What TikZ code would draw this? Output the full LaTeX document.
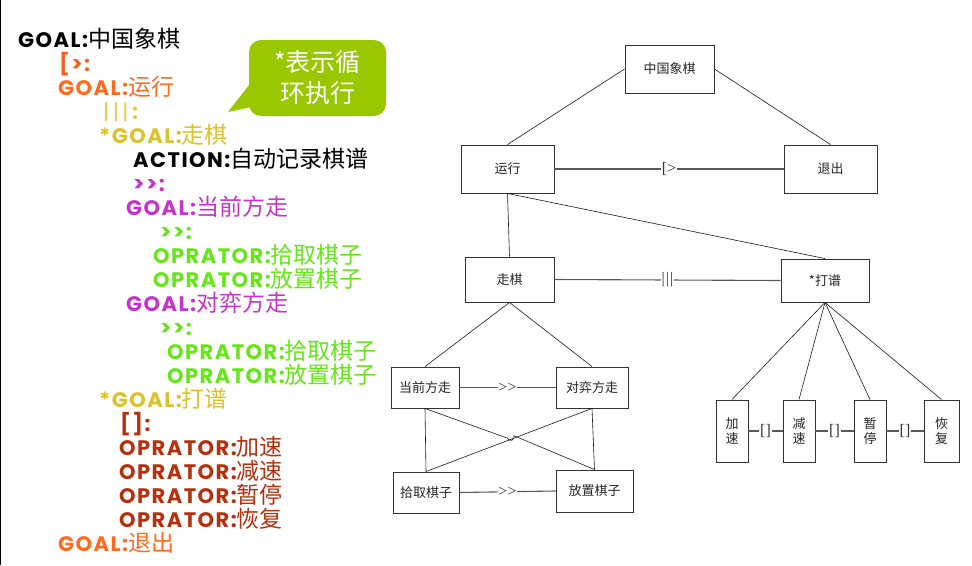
\documentclass[tikz,border=0pt]{standalone}
\usepackage{fontspec}
\newfontfamily\pop{Poppins}[LetterSpace=7]
\newfontfamily\cjk{Noto Sans CJK SC}
\newfontfamily\labf{Liberation Serif}
\usetikzlibrary{calc}
\definecolor{cRedOr}{HTML}{F4601C}
\definecolor{cOrange}{HTML}{FF6A1F}
\definecolor{cYel}{HTML}{DCC22A}
\definecolor{cYelL}{HTML}{E6CA44}
\definecolor{cMag}{HTML}{C832C8}
\definecolor{cGreen}{HTML}{66E619}
\definecolor{cDRed}{HTML}{B5300F}
\definecolor{cCall}{HTML}{99C800}
\newcommand\gl[2]{{\pop\bfseries\fontsize{21}{24}\selectfont #1}{\cjk\fontsize{23}{24}\selectfont #2}}
\begin{document}
\begin{tikzpicture}[x=1pt,y=-1pt,
  box/.style={draw=black!80, line width=0.9pt, fill=white, inner sep=0pt,
    font=\cjk\fontsize{13}{15}\selectfont, text=black!85, align=center},
  edge/.style={line width=0.6pt, black!90},
  sib/.style={line width=1.1pt, black!65},
  lbl/.style={fill=white, inner sep=0.8pt, font=\labf\fontsize{16}{16}\selectfont, text=black!80},
  ln/.style={anchor=base west, inner sep=0pt, font=\fontsize{21}{24}\selectfont},
  callout/.style={fill=cCall, rounded corners=12pt, text=white, align=center,
    font=\cjk\fontsize{25}{31}\selectfont}]
\useasboundingbox (0,0) rectangle (972,565);
\draw[line width=1pt] (0.5,0) -- (0.5,565);

% ---------- left text ----------
\node[ln, text=black]   (l1)  at (18,47)  {\gl{GOAL:}{中国象棋}};
\node[ln, text=cRedOr]  (l2)  at (59,71)  {\gl{[>:}{}};
\node[ln, text=cOrange] (l3)  at (58,95)  {\gl{GOAL:}{运行}};
\node[ln, text=cYelL]   (l4)  at (103,119) {{\pop |\,|\,|\,\bfseries:}};
\node[ln, text=cYel]    (l5)  at (99,143)  {\gl{*GOAL:}{走棋}};
\node[ln, text=black]   (l6)  at (133,167) {\gl{ACTION:}{自动记录棋谱}};
\node[ln, text=cMag]    (l7)  at (133,191) {\gl{>>:}{}};
\node[ln, text=cMag]    (l8)  at (126,215) {\gl{GOAL:}{当前方走}};
\node[ln, text=cGreen]  (l9)  at (160,239) {\gl{>>:}{}};
\node[ln, text=cGreen]  (l10) at (153,263) {\gl{OPRATOR:}{拾取棋子}};
\node[ln, text=cGreen]  (l11) at (153,287) {\gl{OPRATOR:}{放置棋子}};
\node[ln, text=cMag]    (l12) at (126,311) {\gl{GOAL:}{对弈方走}};
\node[ln, text=cGreen]  (l13) at (160,335) {\gl{>>:}{}};
\node[ln, text=cGreen]  (l14) at (167,359) {\gl{OPRATOR:}{拾取棋子}};
\node[ln, text=cGreen]  (l15) at (167,383) {\gl{OPRATOR:}{放置棋子}};
\node[ln, text=cYel]    (l16) at (99,407)  {\gl{*GOAL:}{打谱}};
\node[ln, text=cDRed]   (l17) at (120,431) {\gl{[]:}{}};
\node[ln, text=cDRed]   (l18) at (119,455) {\gl{OPRATOR:}{加速}};
\node[ln, text=cDRed]   (l19) at (119,479) {\gl{OPRATOR:}{减速}};
\node[ln, text=cDRed]   (l20) at (119,503) {\gl{OPRATOR:}{暂停}};
\node[ln, text=cDRed]   (l21) at (119,527) {\gl{OPRATOR:}{恢复}};
\node[ln, text=cOrange] (l22) at (58,551)  {\gl{GOAL:}{退出}};

% ---------- callout ----------
\fill[cCall] (249,85) -- (228,112) -- (256,106) -- cycle;
\node[callout, minimum width=137pt, minimum height=76pt, inner sep=0pt] (call) at (317.5,78)
  {*表示循\\环执行};

% ---------- tree ----------
\node[box, minimum width=89pt, minimum height=48pt] (root) at (669.5,69)  {中国象棋};
\node[box, minimum width=93pt, minimum height=48pt] (yx)   at (507.5,169) {运行};
\node[box, minimum width=93pt, minimum height=48pt] (tc)   at (830.5,169) {退出};
\node[box, minimum width=89pt, minimum height=45pt] (zq)   at (509.5,279.5) {走棋};
\node[box, minimum width=88pt, minimum height=43pt] (dp)   at (825,280.5) {*打谱};
\node[box, minimum width=68pt, minimum height=41pt] (dq)   at (425,387.5) {当前方走};
\node[box, minimum width=72pt, minimum height=41pt] (dy)   at (592,387.5) {对弈方走};
\node[box, minimum width=66pt, minimum height=41pt] (sq)   at (426,492.5) {拾取棋子};
\node[box, minimum width=77pt, minimum height=42pt] (fz)   at (594.5,491) {放置棋子};
\node[box, minimum width=32pt, minimum height=62pt] (js)   at (732,431) {加\\速};
\node[box, minimum width=32pt, minimum height=62pt] (jsu)  at (799,431) {减\\速};
\node[box, minimum width=32pt, minimum height=62pt] (zt)   at (870,431) {暂\\停};
\node[box, minimum width=35pt, minimum height=62pt] (hf)   at (941.5,431) {恢\\复};

\draw[edge] (root.west) -- (yx.north);
\draw[edge] (root.east) -- (tc.north);
\draw[sib] (yx.east) -- node[lbl]{[>} (tc.west);
\draw[edge] (yx.south) -- (zq.north);
\draw[edge] (yx.south) -- (dp.north);
\draw[sib] (zq.east) -- node[lbl]{|\kern1pt|\kern1pt|} (dp.west);
\draw[edge] (zq.south) -- (dq.north);
\draw[edge] (zq.south) -- (dy.north);
\draw[sib] (dq.east) -- node[lbl]{>>} (dy.west);
\draw[edge] (dq.south) -- (sq.north);
\draw[edge] (dy.south) -- (fz.north);
\draw[edge] (dy.south) -- (sq.north);
\draw[edge] (dq.south) -- ($(dq.south)!0.486!(fz.north)$)
  arc[start angle=159.9, end angle=-20.1, radius=3.5] -- (fz.north);
\draw[sib] (sq.east) -- node[lbl]{>>} (fz.west);
\foreach \c in {js,jsu,zt,hf} \draw[edge] (dp.south) -- (\c.north);
\draw[sib] (js.east) -- node[lbl]{[]} (jsu.west);
\draw[sib] (jsu.east) -- node[lbl]{[]} (zt.west);
\draw[sib] (zt.east) -- node[lbl]{[]} (hf.west);
\end{tikzpicture}
\end{document}
